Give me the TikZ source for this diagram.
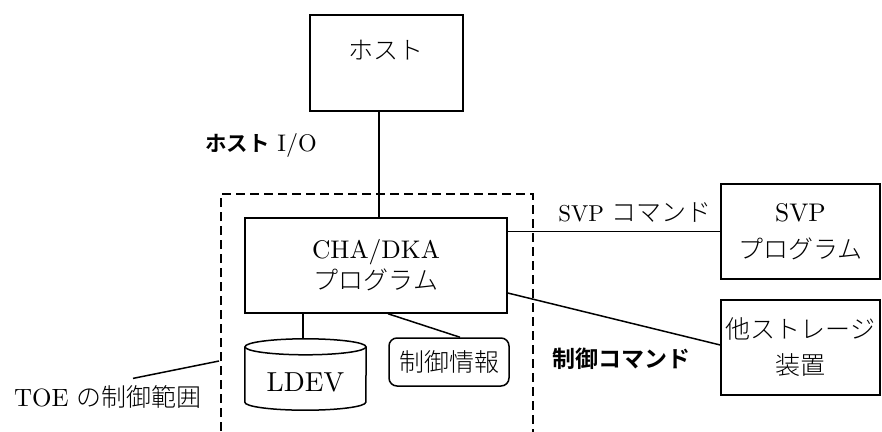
\documentclass[tikz,border=0pt]{standalone}
\usepackage{fontspec}
\setmainfont{lmroman10-regular.otf}
\newfontfamily\jp{Noto Sans CJK JP}[UprightFont={* Light}, BoldFont={* Bold}]
\usetikzlibrary{calc}
\newcommand{\J}[1]{{\jp\fontsize{25}{30}\selectfont #1}}
\newcommand{\JB}[1]{{\jp\bfseries\fontsize{21.5}{26}\selectfont #1}}
\tikzset{
  box/.style={draw, line width=1.5pt, inner sep=0pt, align=center, font=\fontsize{25.5}{30}\selectfont},
  conn/.style={line width=1.5pt},
  frame/.style={line width=1.5pt, dash pattern=on 9pt off 5pt},
  txt/.style={inner sep=0pt, align=center, font=\fontsize{25}{30}\selectfont},
  lbl/.style={inner sep=0pt, font=\fontsize{23}{26}\selectfont},
}
\begin{document}
\begin{tikzpicture}[x=1pt,y=-1pt]
\useasboundingbox (0,0) rectangle (882,431);
\clip (0,0) rectangle (882,431);
% boxes
\node[box, minimum width=153pt, minimum height=96pt] (host) at (386.5,63) {};
\node[txt] (hosttxt) at (386,50) {\J{ホスト}};
\node[box, minimum width=262pt, minimum height=95pt] (cha) at (376,265.5) {CHA/DKA\\[1pt]\J{プログラム}};
\node[box, minimum width=159pt, minimum height=95pt] (svp) at (800.5,231.5) {SVP\\[7pt]\J{プログラム}};
\node[box, minimum width=159pt, minimum height=95pt] (other) at (800.5,347.5) {\J{他ストレージ}\\[6pt]\J{装置}};
\node[box, rounded corners=8pt, minimum width=120pt, minimum height=48pt] (info) at (449,362) {\J{制御情報}};
% LDEV cylinder
\node[minimum width=121pt, minimum height=71pt, inner sep=0pt] (ldev) at (305.5,374.5) {};
\draw[conn] ($(ldev.north west)+(0,8)$) -- ($(ldev.south west)+(0,-8)$)
  arc[start angle=180, end angle=360, x radius=60.5pt, y radius=8pt]
  -- ($(ldev.north east)+(0,8)$);
\draw[conn] ($(ldev.north)+(0,8)$) ellipse[x radius=60.5pt, y radius=8pt];
\node[txt, font=\fontsize{27.5}{30}\selectfont] (ldevtxt) at (305.5,382) {LDEV};
% TOE frame
\draw[frame] (221,445) -- (221,194) -- (533,194) -- (533,445);
% connectors
\coordinate (hostio) at (379,0);
\draw[conn] (host.south -| hostio) -- (cha.north -| hostio);
\coordinate (l1) at (303,0);
\draw[conn] (cha.south -| l1) -- (ldev.north -| l1);
\draw[conn] ($(cha.south)+(12,0)$) -- ($(info.north)+(11,0)$);
\draw[conn] (svp.west) -- (svp.west -| cha.east);
\draw[conn] ($(cha.east)+(0,27.5)$) -- ($(other.west)+(0,-2.5)$);
% TOE label
\node[txt] (toe) at (108,397) {TOE \J{の制御範囲}};
\coordinate (toeend) at (219,361);
\draw[conn] ($(toe.north)+(25,-7)$) -- (toeend);
% labels
\node[lbl] (hostiolbl) at (261,145) {\JB{ホスト} {\fontsize{24}{26}\selectfont I/O}};
\node[lbl] (svpcmd) at (635,213) {SVP \J{コマンド}};
\node[lbl] (ctrlcmd) at (621,359) {{\jp\bfseries\fontsize{23}{26}\selectfont 制御コマンド}};
\end{tikzpicture}
\end{document}
